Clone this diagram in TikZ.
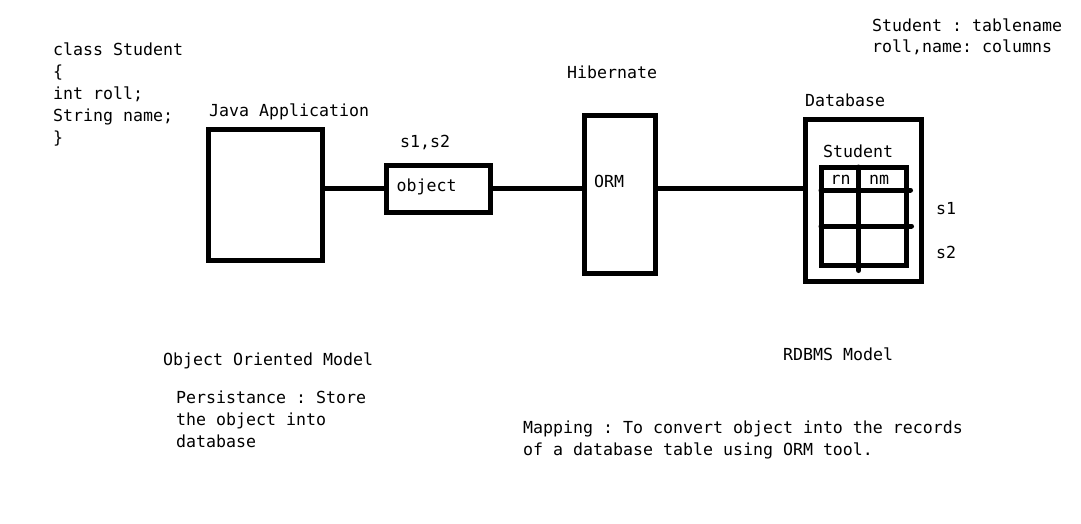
\documentclass[tikz,border=0pt]{standalone}
\usepackage{fontspec}
\setmonofont{DejaVu Sans Mono}
\begin{document}
\begin{tikzpicture}[x=1pt,y=-1pt,
  txt/.style={anchor=base west,inner sep=0pt,font=\ttfamily\fontsize{16.6}{22}\selectfont,text=black},
  box/.style={draw,line width=5pt,inner sep=0pt,rectangle},
  conn/.style={line width=5pt,line cap=round}]
\fill[white] (0,0) rectangle (1081,523);
\useasboundingbox (0,0) rectangle (1081,523);
% boxes
\node[box,minimum width=114pt,minimum height=131pt] (java) at (265,194.5) {};
\node[box,minimum width=104.5pt,minimum height=47pt] (obj) at (438.5,188.5) {};
\node[box,minimum width=71pt,minimum height=158pt] (orm) at (619.5,194) {};
\node[box,minimum width=116pt,minimum height=162pt] (db) at (863,200) {};
\node[box,minimum width=85pt,minimum height=98pt] (tbl) at (863.5,216) {};
% table inner lines
\coordinate (h1) at (821,190);
\coordinate (h2) at (821,226);
\coordinate (v1) at (858.7,167);
\draw[conn] (h1) -- (h1 -| tbl.east) -- ++(2,0);
\draw[conn] (h2) -- (h2 -| tbl.east) -- ++(3,0);
\draw[conn] (v1) -- (v1 |- tbl.south) -- ++(0,3);
% connectors
\draw[conn] (java.east |- obj.west) -- (obj.west);
\draw[conn] (obj.east) -- (obj.east -| orm.west);
\draw[conn] (orm.east |- obj.east) -- (db.west |- obj.east);
% texts
\node[txt] (c1) at (53,55) {class Student};
\node[txt] (c2) at (53,77) {\{};
\node[txt] (c3) at (53,99) {int roll;};
\node[txt] (c4) at (53,121) {String name;};
\node[txt] (c5) at (53,143) {\}};
\node[txt] (tjava) at (209,116) {Java Application};
\node[txt] (ts) at (400,147) {s1,s2};
\node[txt] (tobj) at (396.5,191) {object};
\node[txt] (thib) at (567,78) {Hibernate};
\node[txt] (torm) at (594,187) {ORM};
\node[txt] (tdb) at (805,106) {Database};
\node[txt] (tstu) at (823,157) {Student};
\node[txt] (trn) at (830.5,184) {rn};
\node[txt] (tnm) at (869,184) {nm};
\node[txt] (ts1) at (936,214) {s1};
\node[txt] (ts2) at (936,258) {s2};
\node[txt] (tn1) at (872,31) {Student : tablename};
\node[txt] (tn2) at (872,52) {roll,name: columns};
\node[txt] (too) at (163,365) {Object Oriented Model};
\node[txt] (tp1) at (176,403) {Persistance : Store};
\node[txt] (tp2) at (176,425) {the object into};
\node[txt] (tp3) at (176,447) {database};
\node[txt] (trd) at (783,360) {RDBMS Model};
\node[txt] (tm1) at (523,433) {Mapping : To convert object into the records};
\node[txt] (tm2) at (523,455) {of a database table using ORM tool.};
\end{tikzpicture}
\end{document}
